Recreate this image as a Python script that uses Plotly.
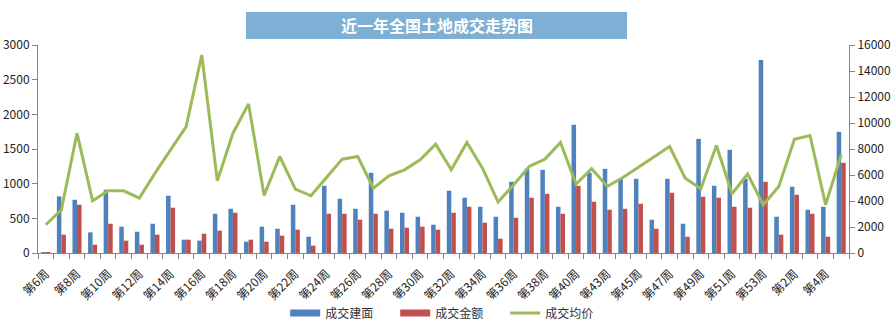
import plotly.graph_objects as go

weeks = ["第6周","第7周","第8周","第9周","第10周","第11周","第12周","第13周","第14周","第15周",
         "第16周","第17周","第18周","第19周","第20周","第21周","第22周","第23周","第24周","第25周",
         "第26周","第27周","第28周","第29周","第30周","第31周","第32周","第33周","第34周","第35周",
         "第36周","第37周","第38周","第39周","第40周","第42周","第43周","第44周","第45周","第46周",
         "第47周","第48周","第49周","第50周","第51周","第52周","第53周","第1周","第2周","第3周",
         "第4周","第5周"]

area = [10, 816, 768, 298, 912, 379, 307, 422, 826, 192,
        178, 566, 638, 163, 379, 350, 696, 235, 970, 782,
        638, 1157, 610, 581, 523, 408, 898, 797, 667, 523,
        1027, 1214, 1200, 667, 1848, 1157, 1214, 1070, 1070, 480,
        1070, 422, 1646, 970, 1488, 1070, 2784, 523, 955, 624,
        667, 1747]

amount = [10, 264, 696, 120, 422, 178, 120, 264, 653, 192,
          278, 322, 581, 192, 163, 250, 336, 106, 566, 566,
          480, 566, 350, 365, 379, 336, 581, 667, 437, 206,
          509, 797, 854, 566, 970, 739, 624, 638, 710, 350,
          869, 235, 811, 797, 667, 653, 1027, 264, 840, 566,
          235, 1301]

price = [2176, 3328, 9216, 4019, 4787, 4787, 4224, 6144, 7936, 9728,
         15232, 5555, 9216, 11469, 4429, 7424, 4915, 4403, 5811, 7219,
         7424, 4992, 5939, 6400, 7168, 8371, 6400, 8499, 6528, 3917,
         5248, 6656, 7219, 8499, 5299, 6477, 5120, 5811, 6605, 7424,
         8192, 5760, 4941, 8269, 4557, 6067, 3712, 5120, 8755, 9037,
         3712, 7552]

series_names = ["成交建面", "成交金额", "成交均价"]
series_colors = ["#4F81BD", "#C0504D", "#9BBB59"]
title_text = "近一年全国土地成交走势图"

idx = list(range(len(weeks)))
label_idx = idx[::2]
label_text = [weeks[i] for i in label_idx]

font_family = "Noto Sans CJK SC, Noto Sans, sans-serif"
axis_color = "#868686"

fig = go.Figure()
fig.add_trace(go.Bar(x=idx, y=area, name=series_names[0], marker_color=series_colors[0],
                     marker_line_width=0, showlegend=False))
fig.add_trace(go.Bar(x=idx, y=amount, name=series_names[1], marker_color=series_colors[1],
                     marker_line_width=0, showlegend=False))
fig.add_trace(go.Scatter(x=idx, y=price, name=series_names[2], mode="lines",
                         line=dict(color=series_colors[2], width=3), yaxis="y2",
                         showlegend=False))

# legend entries (Excel-style wide swatches)
for name, color, w in zip(series_names, series_colors, [7, 7, 3]):
    fig.add_trace(go.Scatter(x=[None], y=[None], name=name, mode="lines",
                             line=dict(color=color, width=w), showlegend=True,
                             hoverinfo="skip"))

fig.update_layout(
    width=895, height=332,
    margin=dict(l=38, r=46, t=45, b=79, autoexpand=False),
    paper_bgcolor="white", plot_bgcolor="white",
    barmode="group", bargap=0.42, bargroupgap=0,
    font=dict(family=font_family, size=12, color="#222222"),
    showlegend=True,
    legend=dict(orientation="h", xref="container", yref="container",
                x=0.503, xanchor="center", y=0.057, yanchor="middle",
                font=dict(size=12, color="#333333"), entrywidth=65, itemwidth=30,
                traceorder="normal"),
    xaxis=dict(
        range=[-0.5, len(weeks) - 0.5], automargin=False,
        tickmode="array", tickvals=label_idx, ticktext=label_text,
        tickangle=-45, ticks="", showgrid=False, zeroline=False,
        showline=True, linecolor=axis_color, linewidth=1,
        ticklabelstandoff=8,
        tickfont=dict(size=12, color="#222222"),
        minor=dict(ticks="outside", tick0=-0.5, dtick=1, ticklen=5,
                   tickcolor=axis_color, showgrid=False),
    ),
    yaxis=dict(
        range=[0, 3000], dtick=500, showgrid=False, zeroline=False, automargin=False,
        showline=True, linecolor=axis_color, linewidth=1,
        ticks="outside", ticklen=5, tickcolor=axis_color, tickformat="d",
        tickfont=dict(size=12, color="#222222"),
    ),
    yaxis2=dict(
        range=[0, 16000], dtick=2000, overlaying="y", side="right", automargin=False,
        showgrid=False, zeroline=False,
        showline=True, linecolor=axis_color, linewidth=1,
        ticks="outside", ticklen=5, tickcolor=axis_color, tickformat="d",
        tickfont=dict(size=12, color="#222222"),
    ),
)

fig.add_shape(type="rect", xref="paper", yref="paper",
              x0=0.2565, x1=0.7263, y0=1.0288, y1=1.1587,
              fillcolor="#7DB0D4", line_width=0, layer="above")
fig.add_annotation(text="<b>" + title_text + "</b>", xref="paper", yref="paper",
                   x=0.4914, y=1.0938, showarrow=False, xanchor="center", yanchor="middle",
                   font=dict(size=16, color="white", family=font_family))

fig.write_html("out.html")
